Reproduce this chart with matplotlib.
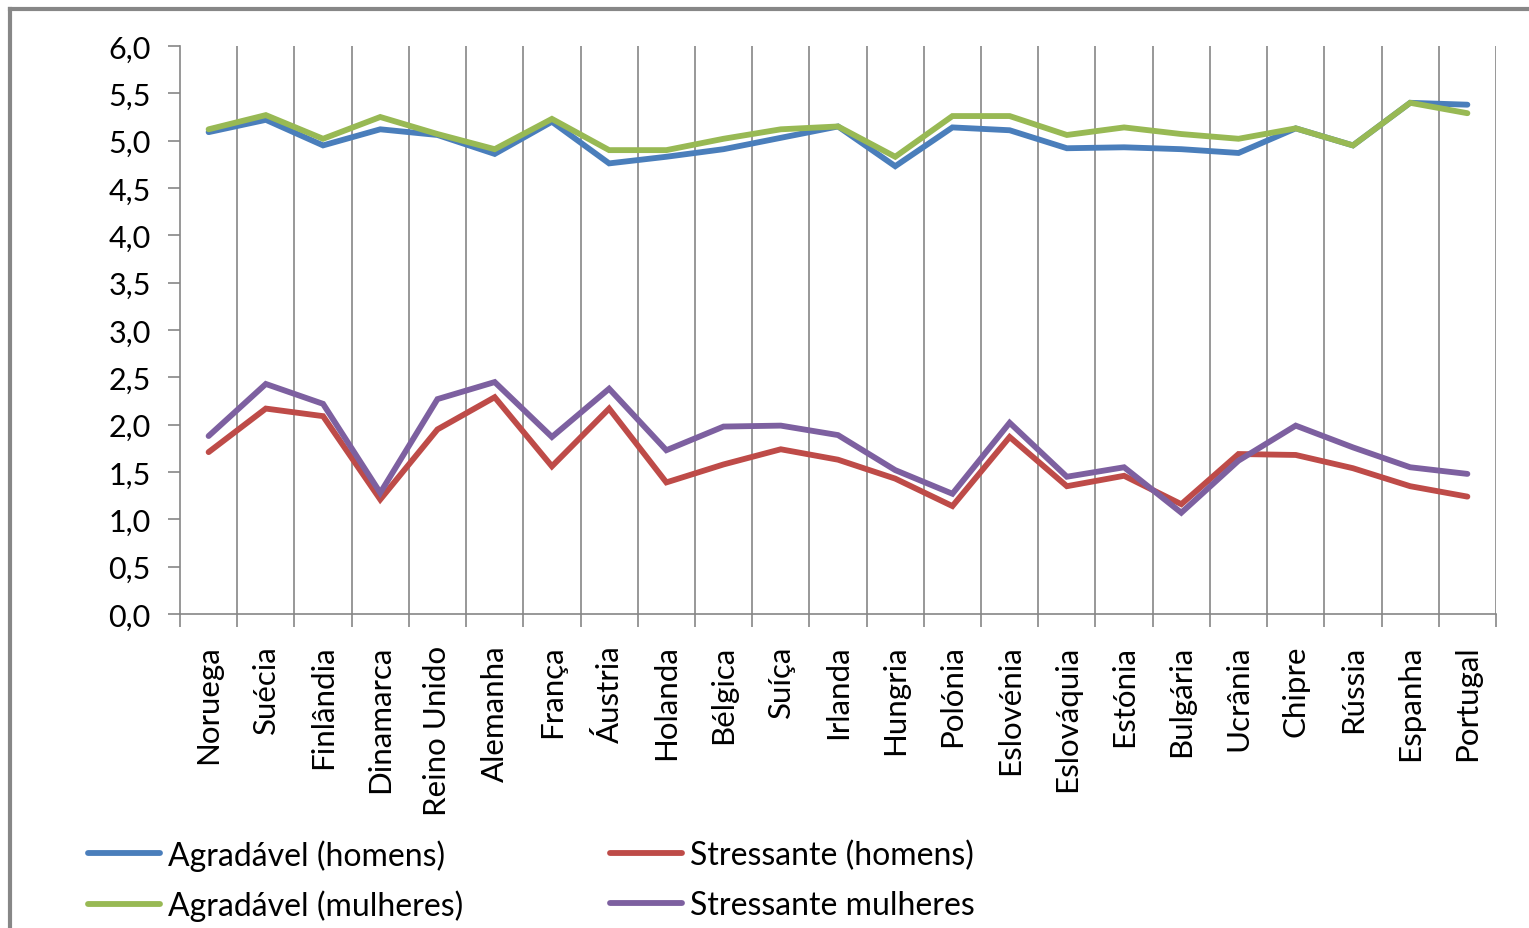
import numpy as np
import matplotlib.pyplot as plt
from matplotlib.lines import Line2D

paises = ["Noruega", "Suécia", "Finlândia", "Dinamarca", "Reino Unido", "Alemanha",
          "França", "Áustria", "Holanda", "Bélgica", "Suíça", "Irlanda", "Hungria",
          "Polónia", "Eslovénia", "Eslováquia", "Estónia", "Bulgária", "Ucrânia",
          "Chipre", "Rússia", "Espanha", "Portugal"]

agrad_homens = [5.09, 5.22, 4.95, 5.12, 5.06, 4.86, 5.20, 4.76, 4.83, 4.91, 5.03, 5.15,
                4.73, 5.14, 5.11, 4.92, 4.93, 4.91, 4.87, 5.13, 4.95, 5.40, 5.38]
agrad_mulheres = [5.12, 5.27, 5.02, 5.25, 5.07, 4.91, 5.23, 4.90, 4.90, 5.02, 5.12, 5.15,
                  4.83, 5.26, 5.26, 5.06, 5.14, 5.07, 5.02, 5.13, 4.95, 5.40, 5.29]
stress_homens = [1.71, 2.17, 2.09, 1.21, 1.95, 2.29, 1.56, 2.17, 1.39, 1.58, 1.74, 1.63,
                 1.43, 1.14, 1.87, 1.35, 1.46, 1.16, 1.69, 1.68, 1.54, 1.35, 1.24]
stress_mulheres = [1.88, 2.43, 2.22, 1.28, 2.27, 2.45, 1.87, 2.38, 1.73, 1.98, 1.99, 1.89,
                   1.52, 1.27, 2.02, 1.45, 1.55, 1.07, 1.62, 1.99, 1.76, 1.55, 1.48]

# legend is filled column by column: left column = Agradável, right = Stressante
series = [
    ("Agradável (homens)", agrad_homens, "#4a7ebb"),
    ("Agradável (mulheres)", agrad_mulheres, "#98b954"),
    ("Stressante (homens)", stress_homens, "#be4b48"),
    ("Stressante mulheres", stress_mulheres, "#7d60a0"),
]

plt.rcParams['font.family'] = ['Lato', 'DejaVu Sans']
grid_col = "#868686"

fig = plt.figure(figsize=(15.29, 9.29), dpi=100)
ax = fig.add_axes([180/1529, 1 - 615/929, (1496 - 180)/1529, (615 - 47)/929])

x = np.arange(len(paises))
for nome, vals, cor in series:
    ax.plot(x, vals, color=cor, lw=4.2, solid_capstyle='round', solid_joinstyle='miter', zorder=3)

ax.set_xlim(-0.5, len(paises) - 0.5)
ax.set_ylim(0, 6)
yt = np.arange(0, 6.01, 0.5)
ax.set_yticks(yt)
ax.set_yticklabels([f"{v:.1f}".replace(".", ",") for v in yt])

# category boundaries: gridlines and tick marks
bounds = np.arange(-0.5, len(paises) + 0.5, 1)
for b in bounds[1:]:
    ax.axvline(b, color=grid_col, lw=1.2, zorder=1)
ax.set_xticks(bounds, minor=True)
ax.set_xticks(x)
ax.set_xticklabels(paises, rotation=90, fontsize=22.5)
ax.tick_params(axis='x', which='major', length=0, pad=22)
ax.tick_params(axis='x', which='minor', length=9, color=grid_col, width=1.2)
ax.tick_params(axis='y', length=9, color=grid_col, width=1.2, labelsize=22, pad=12)

for s in ['top', 'right']:
    ax.spines[s].set_visible(False)
for s in ['left', 'bottom']:
    ax.spines[s].set_color(grid_col)
    ax.spines[s].set_linewidth(1.2)

handles = [Line2D([], [], color=c, lw=4.2, solid_capstyle='round') for _, _, c in series]
labels = [n for n, _, _ in series]
fig.legend(handles, labels, loc='upper left', bbox_to_anchor=(88/1529, 1 - 840/929),
           ncol=2, frameon=False, fontsize=23, handlelength=2.25, handletextpad=0.25,
           columnspacing=4.6, labelspacing=0.6, borderpad=0, borderaxespad=0)

# chart area border
fig.add_artist(Line2D([10/1529, 10/1529], [0, 1 - 10/929], color="#878787", lw=3,
                      transform=fig.transFigure))
fig.add_artist(Line2D([10/1529, 1], [1 - 10/929, 1 - 10/929], color="#878787", lw=3,
                      transform=fig.transFigure))

fig.savefig("out.png", dpi=100)
